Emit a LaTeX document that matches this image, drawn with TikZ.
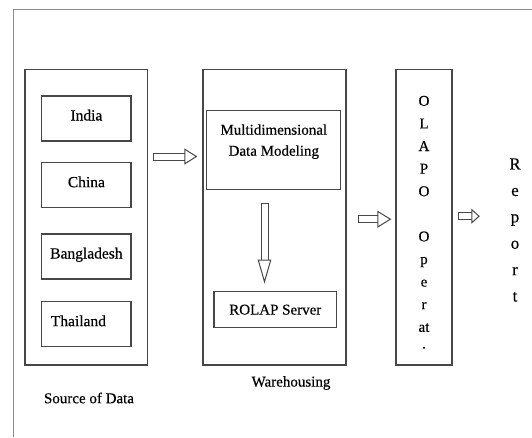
\documentclass[tikz,border=0pt]{standalone}
\usepackage{fontspec}
\setmainfont{Liberation Serif}[FakeBold=0.4]
\usetikzlibrary{arrows.meta,positioning,calc}
\tikzset{
  frame/.style  ={draw=black!45,line width=1pt},
  panel/.style  ={draw=black!72,line width=1.3pt,minimum width=#1,minimum height=295.7pt,inner sep=0pt},
  country/.style={draw=black!72,line width=1.3pt,minimum width=89.3pt,minimum height=45pt,text height=11pt,text depth=7pt,font=\fontsize{15.5}{18}\selectfont},
  inbox/.style  ={draw=black!72,line width=1.2pt,font=\fontsize{15}{21}\selectfont,align=center},
  caption/.style={font=\fontsize{15}{18}\selectfont},
  fat/.style 2 args={draw=black!72,line width=1pt,double=white,double distance=6pt,
                     {Bar[width=8pt,line width=1pt]}-{Triangle[open,length=#1,width=#2,line width=1pt]}},
}
\begin{document}
\begin{tikzpicture}[x=1pt,y=-1pt]
  \useasboundingbox (0,0) rectangle (532,437);
  \draw[frame] (13.5,437) -- (13.5,9.5) -- (532,9.5);
  % source of data
  \node[panel=122.7pt](src) at (86.4,217.2){};
  \node[country](india)  at (86.4,118.5){India};
  \node[country](china)  at (86.4,185.2){China};
  \node[country](bangla) at (86.4,256.5){Bangladesh};
  \node[country](thai)   at (86.4,324.2){Thailand\hspace*{16pt}};
  \node[caption](srcname) at (89,398){Source of Data};
  % warehousing
  \node[panel=143pt](wh) at (274.5,217.2){};
  \node[inbox,minimum width=134pt,minimum height=79pt,text depth=20pt](mdm) at (273.8,150){Multidimensional\\Data Modeling};
  \node[inbox,minimum width=122.7pt,minimum height=36pt](rolap) at (275.3,309.7){ROLAP Server};
  \node[caption](whname) at (291,383){Warehousing};
  % olap and report
  \node[panel=56pt,align=center,font=\fontsize{15}{22.6}\selectfont](olap) at (424,217.2){\rule{0pt}{20pt}O\\L\\A\\P\\O\\[22.6pt]O\\p\\e\\r\\at\\[-6pt].};
  \node[align=center,font=\fontsize{17}{26.4}\selectfont](report) at (515,230){R\\e\\p\\o\\r\\t};
  % arrows
  \draw[fat={13pt}{16pt}] ($(src.east |- mdm)+(5,6.5)$) -- ($(wh.west |- mdm)+(-5,6.5)$);
  \draw[fat={24pt}{13.5pt}] ($(mdm.south)+(-9.3,13)$) -- ($(rolap.north)+(-10.8,-7.5)$);
  \draw[fat={14pt}{17pt}] ($(wh.east)+(11,2)$) -- ($(olap.west)+(-4,2)$);
  \draw[fat={8.5pt}{15pt}] ($(olap.east)+(5.5,-1)$) -- ($(report.west |- olap.east)+(-26,-1)$);
\end{tikzpicture}
\end{document}
